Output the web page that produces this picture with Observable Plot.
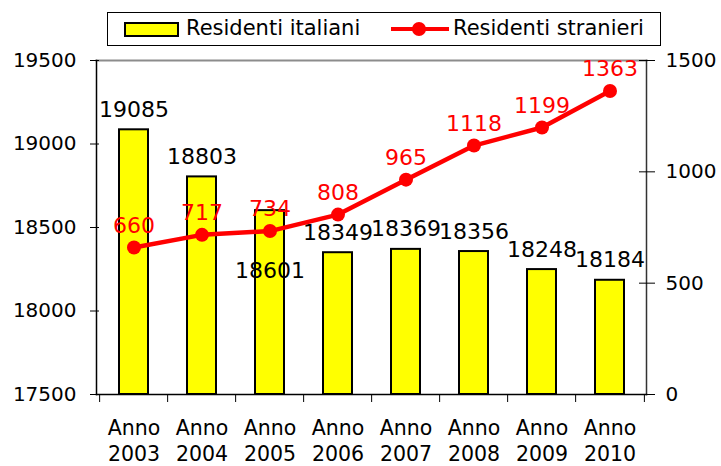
<!DOCTYPE html>
<html>
<head>
<meta charset="utf-8">
<script src="https://cdn.jsdelivr.net/npm/d3@7"></script>
<script src="https://cdn.jsdelivr.net/npm/@observablehq/plot@0.6"></script>
<style>
  html, body { margin: 0; padding: 0; background: #fff; }
  #wrap { position: relative; width: 721px; height: 466px; font-family: "DejaVu Sans", sans-serif; }
  #legend { position: absolute; left: 107px; top: 12px; width: 552px; height: 32px; border: 1px solid #000; background: #fff; font-size: 21px; color: #000; }
  #legend .sw1 { position: absolute; left: 16px; top: 9px; width: 51px; height: 11px; background: #ffff00; border: 2px solid #000; }
  #legend .t1 { position: absolute; left: 78px; top: 3px; white-space: nowrap; }
  #legend .ln { position: absolute; left: 283px; top: 14px; width: 58px; height: 4px; background: #ff0000; }
  #legend .dt { position: absolute; left: 304px; top: 9px; width: 14px; height: 14px; border-radius: 50%; background: #ff0000; }
  #legend .t2 { position: absolute; left: 345px; top: 3px; white-space: nowrap; }
  svg text { font-family: "DejaVu Sans", sans-serif; }
</style>
</head>
<body>
<div id="wrap">
  <div id="chart"></div>
  <div id="legend">
    <div class="sw1"></div><div class="t1">Residenti italiani</div>
    <div class="ln"></div><div class="dt"></div><div class="t2">Residenti stranieri</div>
  </div>
</div>
<script>
const categories = ["Anno 2003", "Anno 2004", "Anno 2005", "Anno 2006", "Anno 2007", "Anno 2008", "Anno 2009", "Anno 2010"];
const residentiItaliani = [19085, 18803, 18601, 18349, 18369, 18356, 18248, 18184];
const residentiStranieri = [660, 717, 734, 808, 965, 1118, 1199, 1363];
const leftTicks = [17500, 18000, 18500, 19000, 19500];
const rightTicks = [0, 500, 1000, 1500];

const leftDomain = [17500, 19500];
const rightDomain = [0, 1500];
const toLeft = v => leftDomain[0] + (v - rightDomain[0]) / (rightDomain[1] - rightDomain[0]) * (leftDomain[1] - leftDomain[0]);
const fromLeft = v => rightDomain[0] + (v - leftDomain[0]) / (leftDomain[1] - leftDomain[0]) * (rightDomain[1] - rightDomain[0]);

const data = categories.map((c, i) => ({cat: c, it: residentiItaliani[i], st: residentiStranieri[i], i}));

const W = 721, H = 466, mL = 96, mR = 75, mT = 60, mB = 72;
const step = (W - mL - mR) / categories.length;

const chart = Plot.plot({
  width: W, height: H,
  marginLeft: mL, marginRight: mR, marginTop: mT, marginBottom: mB,
  style: {fontFamily: "DejaVu Sans, sans-serif", background: "#fff", color: "#000"},
  x: {type: "band", domain: categories, paddingInner: 0.58, paddingOuter: 0.29, axis: null, label: null},
  y: {domain: leftDomain, axis: null, label: null},
  marks: [
    Plot.frame({anchor: "top", stroke: "#8c8c8c", strokeWidth: 2}),
    Plot.barY(data, {x: "cat", y1: leftDomain[0], y2: "it", fill: "#ffff00", stroke: "#000", strokeWidth: 2}),
    Plot.frame({anchor: "left", stroke: "#000", strokeWidth: 1.5}),
    Plot.frame({anchor: "right", stroke: "#333", strokeWidth: 1.5}),
    Plot.frame({anchor: "bottom", stroke: "#000", strokeWidth: 1.5}),
    Plot.axisY({ticks: leftTicks, tickSize: 6, tickPadding: 14, fontSize: 20, label: null, tickFormat: d => String(d)}),
    Plot.axisY({ticks: leftTicks, tickSize: -3, label: null, tickFormat: () => ""}),
    Plot.axisY({ticks: rightTicks.map(toLeft), anchor: "right", tickSize: 8, tickPadding: 11, fontSize: 20, label: null, tickFormat: d => String(Math.round(fromLeft(d)))}),
    Plot.axisY({ticks: rightTicks.map(toLeft), anchor: "right", tickSize: -8, label: null, tickFormat: () => ""}),
    Plot.axisX({tickSize: 0, tickPadding: 22, fontSize: 20.5, lineHeight: 1.27, label: null, tickFormat: d => d.replace(" ", "\n")}),
    Plot.axisX({tickSize: 8, dx: -step / 2, label: null, tickFormat: () => ""}),
    Plot.axisX({ticks: categories.slice(-1), tickSize: 8, dx: step / 2, label: null, tickFormat: () => ""}),
    Plot.text(data.filter(d => d.i !== 2), {x: "cat", y: "it", text: d => String(d.it), dy: -20, fontSize: 22, fill: "#000"}),
    Plot.text(data.filter(d => d.i === 2), {x: "cat", y: "it", text: d => String(d.it), dy: 60, fontSize: 22, fill: "#000"}),
    Plot.line(data, {x: "cat", y: d => toLeft(d.st), stroke: "#ff0000", strokeWidth: 4.5}),
    Plot.dot(data, {x: "cat", y: d => toLeft(d.st), r: 7, fill: "#ff0000"}),
    Plot.text(data, {x: "cat", y: d => toLeft(d.st), text: d => String(d.st), dy: -22, fontSize: 22, fill: "#ff0000"})
  ]
});
document.getElementById("chart").appendChild(chart);
</script>
</body>
</html>
